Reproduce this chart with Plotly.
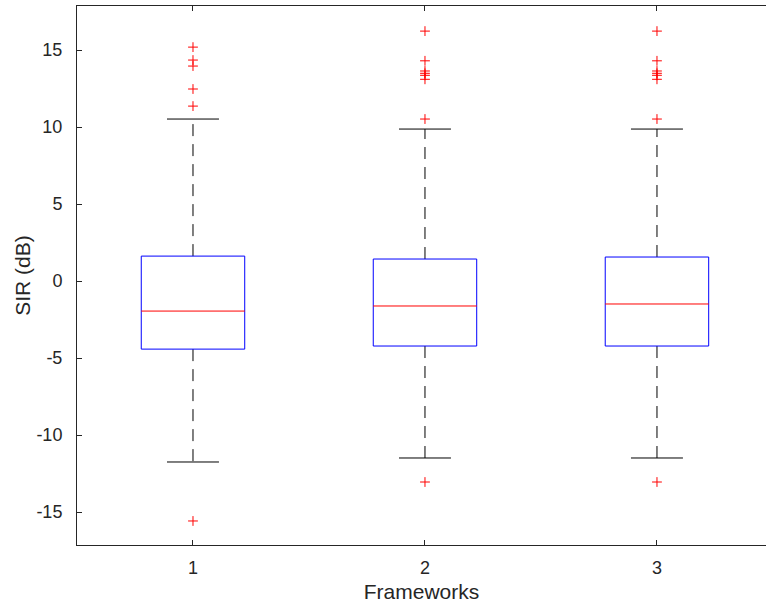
import plotly.graph_objects as go

# ---- data ----
categories = [1, 2, 3]
q1 = [-4.42, -4.22, -4.22]
median = [-1.95, -1.62, -1.49]
q3 = [1.62, 1.43, 1.56]
whisker_low = [-11.75, -11.49, -11.49]
whisker_high = [10.52, 9.87, 9.87]
outliers = [
    [15.19, 14.35, 13.96, 12.47, 11.36, -15.58],
    [16.23, 14.30, 13.64, 13.49, 13.36, 13.10, 10.52, -13.05],
    [16.23, 14.30, 13.64, 13.49, 13.36, 13.10, 10.52, -13.05],
]
y_ticks = [-15, -10, -5, 0, 5, 10, 15]
y_ticklabels = ["-15", "-10", "-5", "0", "5", "10", "15"]

# ---- style ----
half_w = 0.223
cap_w = 0.112

box_x, box_y = [], []
med_x, med_y = [], []
wh_x, wh_y = [], []
cap_x, cap_y = [], []
out_x, out_y = [], []
for i, c in enumerate(categories):
    box_x += [c - half_w, c + half_w, c + half_w, c - half_w, c - half_w, None]
    box_y += [q1[i], q1[i], q3[i], q3[i], q1[i], None]
    med_x += [c - half_w, c + half_w, None]
    med_y += [median[i], median[i], None]
    wh_x += [c, c, None, c, c, None]
    wh_y += [q3[i], whisker_high[i], None, q1[i], whisker_low[i], None]
    cap_x += [c - cap_w, c + cap_w, None, c - cap_w, c + cap_w, None]
    cap_y += [whisker_high[i], whisker_high[i], None, whisker_low[i], whisker_low[i], None]
    for v in outliers[i]:
        out_x.append(c)
        out_y.append(v)

fig = go.Figure()
fig.add_trace(go.Scatter(x=wh_x, y=wh_y, mode="lines",
                         line=dict(color="black", width=1, dash="12px,8px"),
                         hoverinfo="skip"))
fig.add_trace(go.Scatter(x=cap_x, y=cap_y, mode="lines",
                         line=dict(color="black", width=1), hoverinfo="skip"))
fig.add_trace(go.Scatter(x=box_x, y=box_y, mode="lines",
                         line=dict(color="blue", width=1)))
fig.add_trace(go.Scatter(x=med_x, y=med_y, mode="lines",
                         line=dict(color="red", width=1)))
fig.add_trace(go.Scatter(x=out_x, y=out_y, mode="markers",
                         marker=dict(symbol="cross-thin", size=7,
                                     line=dict(color="red", width=1))))

axis_common = dict(
    showgrid=False, zeroline=False, showline=True, linecolor="#262626",
    linewidth=1, ticks="inside", ticklen=5, tickcolor="#262626",
    tickfont=dict(family="Liberation Sans", size=18, color="#262626"),
)

fig.update_layout(
    width=766, height=610,
    margin=dict(l=77, r=0, t=6, b=65),
    paper_bgcolor="white", plot_bgcolor="white",
    showlegend=False,
    font=dict(family="Liberation Sans", color="#262626"),
    xaxis=dict(range=[0.5, 3.47], tickvals=categories,
               ticktext=[str(c) for c in categories], mirror="ticks",
               ticklabelstandoff=6,
               title=dict(text="Frameworks", font=dict(size=21), standoff=7),
               **axis_common),
    yaxis=dict(range=[-17.14, 17.86], tickvals=y_ticks, ticktext=y_ticklabels,
               ticklabelstandoff=10,
               title=dict(text="SIR (dB)", font=dict(size=21), standoff=0),
               **axis_common),
)

fig.write_html("out.html")
